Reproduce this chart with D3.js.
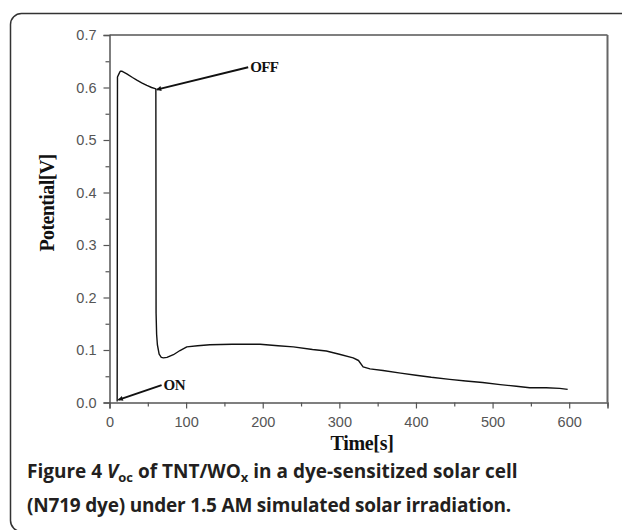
<!DOCTYPE html>
<html><head><meta charset="utf-8">
<script src="https://cdn.jsdelivr.net/npm/d3@7"></script>
<style>
html,body{margin:0;padding:0;background:#fff;}
svg{display:block;}
</style></head>
<body>
<script>
// ---- data ----
const timeS = [10, 10.4, 12, 14, 16, 22.6, 30, 35.7, 42, 48.7, 55, 59.6, 60.5, 60.8, 61.5, 62.5, 64.8, 67.6, 70.4, 75, 83.4, 92, 100.9, 115, 131, 160, 196.5, 220, 240, 265, 283, 300, 318, 325, 331, 340, 357, 380, 400, 420, 444, 465, 487, 510, 531, 548.5, 570, 587.6, 598];
const potentialV = [0.002, 0.62, 0.625, 0.631, 0.631, 0.626, 0.619, 0.614, 0.609, 0.604, 0.600, 0.598, 0.597, 0.17, 0.13, 0.11, 0.092, 0.086, 0.085, 0.086, 0.091, 0.099, 0.106, 0.108, 0.110, 0.111, 0.111, 0.108, 0.106, 0.101, 0.098, 0.092, 0.085, 0.080, 0.068, 0.064, 0.061, 0.056, 0.052, 0.048, 0.044, 0.041, 0.038, 0.034, 0.031, 0.028, 0.028, 0.027, 0.025];
const xTicks = [0, 100, 200, 300, 400, 500, 600];
const xMinor = [50, 150, 250, 350, 450, 550, 650];
const yTicks = [0.0, 0.1, 0.2, 0.3, 0.4, 0.5, 0.6, 0.7];
const yMinor = [0.05, 0.15, 0.25, 0.35, 0.45, 0.55, 0.65];
const annotLabels = ["OFF", "ON"];
const annotTail = [[181, 0.6385], [68, 0.033]];
const annotHead = [[61.6, 0.596], [11.5, 0.005]];

// ---- drawing ----
const W = 622, H = 530;
const svg = d3.select("body").append("svg").attr("width", W).attr("height", H);
svg.append("rect").attr("width", W).attr("height", H).attr("fill", "#fff");

// rounded frame
svg.append("rect").attr("x", 10.5).attr("y", 13.5).attr("width", 700).attr("height", 518)
  .attr("rx", 11).attr("fill", "none").attr("stroke", "#333").attr("stroke-width", 1.5);

const x = d3.scaleLinear().domain([0, 650]).range([109.5, 607.5]);
const y = d3.scaleLinear().domain([0, 0.7]).range([402.5, 35]);

const axisColor = "#555";
const gx = svg.append("g").attr("transform", `translate(0,${y(0)})`)
  .call(d3.axisBottom(x).tickValues(xTicks).tickSize(6).tickPadding(8).tickFormat(d3.format("d")));
const gxm = svg.append("g").attr("transform", `translate(0,${y(0)})`)
  .call(d3.axisBottom(x).tickValues(xMinor).tickSize(4).tickFormat(""));
const gy = svg.append("g").attr("transform", `translate(${x(0)},0)`)
  .call(d3.axisLeft(y).tickValues(yTicks).tickSize(6).tickPadding(7).tickFormat(d3.format(".1f")));
const gym = svg.append("g").attr("transform", `translate(${x(0)},0)`)
  .call(d3.axisLeft(y).tickValues(yMinor).tickSize(4).tickFormat(""));
[gx, gxm, gy, gym].forEach(g => {
  g.selectAll(".domain").attr("stroke", axisColor).attr("stroke-width", 1.5);
  g.selectAll(".tick line").attr("stroke", axisColor).attr("stroke-width", 1.2);
  g.selectAll("text").attr("fill", "#555").style("font-family", "'Liberation Sans', Arial, sans-serif").style("font-size", "14.5px");
});
gym.select(".domain").remove(); gxm.select(".domain").remove();

// top and right frame
svg.append("line").attr("x1", x(0)).attr("x2", x(650)).attr("y1", y(0.7)).attr("y2", y(0.7))
  .attr("stroke", axisColor).attr("stroke-width", 1.5);
svg.append("line").attr("x1", x(650)).attr("x2", x(650)).attr("y1", y(0.7)).attr("y2", y(0))
  .attr("stroke", "#666").attr("stroke-width", 2);

// data line
const pts = timeS.map((t, i) => [t, potentialV[i]]);
svg.append("path").datum(pts)
  .attr("fill", "none").attr("stroke", "#111").attr("stroke-width", 1.4)
  .attr("stroke-linejoin", "round")
  .attr("d", d3.line().x(d => x(d[0])).y(d => y(d[1])));

// arrows
svg.append("defs").append("marker").attr("id", "ah").attr("viewBox", "0 0 10 10")
  .attr("refX", 9).attr("refY", 5).attr("markerWidth", 7).attr("markerHeight", 5)
  .attr("orient", "auto").attr("markerUnits", "userSpaceOnUse")
  .append("path").attr("d", "M0,0 L10,5 L0,10 Z").attr("fill", "#111");
annotLabels.forEach((lab, i) => {
  svg.append("line")
    .attr("x1", x(annotTail[i][0])).attr("y1", y(annotTail[i][1]))
    .attr("x2", x(annotHead[i][0])).attr("y2", y(annotHead[i][1]))
    .attr("stroke", "#111").attr("stroke-width", 2).attr("marker-end", "url(#ah)");
  svg.append("text").attr("x", x(annotTail[i][0]) + 2).attr("y", y(annotTail[i][1]) + 5)
    .text(lab).attr("fill", "#111")
    .style("font-family", "'Liberation Serif', 'Times New Roman', serif")
    .style("font-weight", "bold").style("font-size", "15px").style("letter-spacing", "-0.6px");
});

// axis titles
svg.append("text").attr("x", 362).attr("y", 450).attr("text-anchor", "middle")
  .text("Time[s]").attr("fill", "#111")
  .style("font-family", "'Liberation Serif', 'Times New Roman', serif")
  .style("font-weight", "bold").style("font-size", "20px").style("letter-spacing", "-0.3px");
svg.append("text").attr("transform", "translate(54,203) rotate(-90)").attr("text-anchor", "middle")
  .text("Potential[V]").attr("fill", "#111")
  .style("font-family", "'Liberation Serif', 'Times New Roman', serif")
  .style("font-weight", "bold").style("font-size", "20px").style("letter-spacing", "-0.6px");

// caption
const cap = svg.append("g").style("font-family", "'Open Sans', 'Noto Sans', sans-serif")
  .style("font-size", "19px").style("font-weight", "bold").attr("fill", "#231f20");
const t1 = cap.append("text").attr("x", 27).attr("y", 478);
t1.append("tspan").text("Figure 4 ");
t1.append("tspan").text("V").style("font-style", "italic");
t1.append("tspan").text("oc").style("font-size", "13px").attr("dy", 4);
t1.append("tspan").text(" of TNT/WO").attr("dy", -4);
t1.append("tspan").text("x").style("font-size", "13px").attr("dy", 4);
t1.append("tspan").text(" in a dye-sensitized solar cell").attr("dy", -4);
const t2 = cap.append("text").attr("x", 27).attr("y", 512).style("letter-spacing", "-0.2px");
t2.append("tspan").text("(N719 dye) under 1.5 AM simulated solar irradiation.");
</script>
</body></html>
